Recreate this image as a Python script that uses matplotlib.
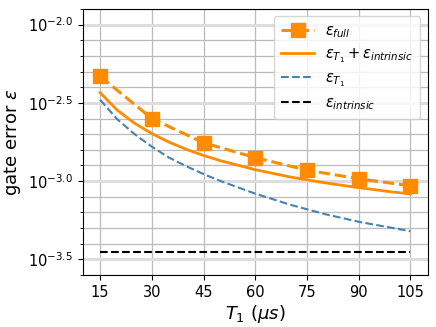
import numpy as np
import matplotlib.pyplot as plt
from matplotlib.ticker import FixedLocator, FuncFormatter

# T1 values (us) with markers
T1_MARKERS = [15, 30, 45, 60, 75, 90, 105]
LOG_FULL = [-2.33, -2.60, -2.755, -2.85, -2.93, -2.985, -3.03]

# smooth curves (log10 of error)
T1_CURVE = [15, 20, 25, 30, 35, 40, 45, 50, 60, 70, 75, 80, 90, 100, 105]
LOG_SUM = [-2.435, -2.547, -2.63, -2.696, -2.751, -2.797, -2.836, -2.87,
           -2.927, -2.973, -2.992, -3.01, -3.042, -3.07, -3.082]
LOG_T1 = [-2.48, -2.605, -2.70, -2.78, -2.85, -2.905, -2.955, -3.00,
          -3.08, -3.15, -3.18, -3.21, -3.26, -3.30, -3.32]
LOG_INTRINSIC = [-3.45] * len(T1_CURVE)

Y_MAJOR = [-3.5, -3.0, -2.5, -2.0]
Y_MINOR = [-3.6, -3.4, -3.3, -3.2, -3.1, -2.9, -2.8, -2.7, -2.6,
           -2.4, -2.3, -2.2, -2.1, -1.9]


def main():
    fig = plt.figure(figsize=(4.36, 3.27), dpi=100)
    ax = fig.add_axes([0.19, 0.159, 0.791, 0.8135])

    ax.plot(T1_MARKERS, LOG_FULL, color='darkorange', ls='--', lw=2.2,
            marker='s', markersize=10, label=r'$\epsilon_{full}$', zorder=5)
    ax.plot(T1_CURVE, LOG_SUM, color='darkorange', lw=2,
            label=r'$\epsilon_{T_1} + \epsilon_{intrinsic}$', zorder=4)
    ax.plot(T1_CURVE, LOG_T1, color='steelblue', ls='--', lw=1.5,
            label=r'$\epsilon_{T_1}$', zorder=3)
    ax.plot(T1_CURVE, LOG_INTRINSIC, color='black', ls='--', lw=1.5,
            label=r'$\epsilon_{intrinsic}$', zorder=3)

    ax.set_xlim(10, 110)
    ax.set_ylim(-3.6, -1.9)
    ax.set_xticks(T1_MARKERS)
    ax.xaxis.set_minor_locator(FixedLocator(T1_MARKERS[:1]))
    ax.yaxis.set_major_locator(FixedLocator(Y_MAJOR))
    ax.yaxis.set_minor_locator(FixedLocator(Y_MINOR))
    ax.yaxis.set_major_formatter(FuncFormatter(lambda v, p: r'$10^{%.1f}$' % v))

    ax.grid(True, which='major', axis='x', color='#bbbbbb', lw=0.9)
    ax.grid(True, which='minor', axis='x', color='#dddddd', lw=2.2)
    ax.grid(True, which='major', axis='y', color='#dddddd', lw=2.2)
    ax.grid(True, which='minor', axis='y', color='#bbbbbb', lw=0.9)
    ax.set_axisbelow(True)

    ax.tick_params(axis='both', which='major', labelsize=10.5)
    ax.tick_params(axis='x', which='minor', length=0)
    ax.set_xlabel(r'$T_1$ ($\mu s$)', fontsize=13, labelpad=2)
    ax.set_ylabel(r'gate error $\epsilon$', fontsize=13, labelpad=4)

    ax.legend(loc='upper right', fontsize=10.5, handlelength=2.2,
              framealpha=0.8, borderpad=0.5, labelspacing=0.4)

    fig.savefig('out.png', dpi=100)


if __name__ == '__main__':
    main()
